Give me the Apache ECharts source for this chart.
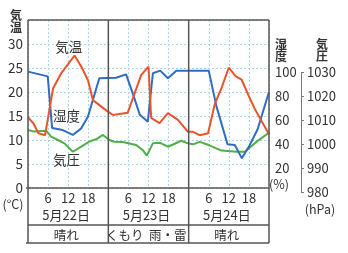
<!DOCTYPE html>
<html><head><meta charset="utf-8">
<script src="https://cdn.jsdelivr.net/npm/echarts@6/dist/echarts.min.js"></script>
<style>html,body{margin:0;padding:0;background:#fff}#c{width:348px;height:253px}</style>
</head><body><div id="c"></div>
<script>
// ---- data (hours from 5/22 00:00) ----
const tempHours  = [0, 1.6, 3.1, 5.1, 7.5, 10, 13.9, 15.9, 17.9, 19.4, 22.4, 23.9, 25.4, 29.8, 33.8, 36, 36.8, 39.3, 41.8, 44.8, 47.8, 49.3, 51.3, 53.8, 55.8, 57.8, 60, 62, 63.8, 65.8, 67.8, 72];
const tempValues = [14.7, 13.5, 11.4, 11.0, 20.8, 24.0, 27.6, 25.3, 22.5, 18.3, 16.7, 15.9, 15.2, 15.7, 23.5, 25.3, 14.6, 13.5, 15.6, 14.2, 11.7, 11.7, 11.0, 11.4, 17.5, 20.8, 25.1, 23.3, 22.6, 19.4, 16.4, 11.2];
const humHours   = [0, 5.9, 7.2, 10.4, 13.4, 15.9, 17.9, 21.3, 26.3, 29.3, 31.4, 33.4, 35.8, 37.3, 39.5, 41.8, 44.3, 54, 56.3, 59.6, 61.8, 63.9, 66.1, 68.6, 72];
const humValues  = [97, 93, 50, 48.3, 44.2, 49.7, 59.4, 91.4, 91.9, 94.7, 78, 61, 55.3, 95.6, 97.8, 91.4, 97.8, 97.8, 68, 36.5, 35.8, 24.7, 35, 49, 80];
const presHours  = [0, 1.9, 5.4, 6.9, 8.9, 10.9, 13.4, 15.9, 18.3, 20.3, 22.4, 24.3, 25.8, 28.3, 32.3, 34.3, 35.5, 37.3, 39.3, 41.8, 45.8, 47.8, 49.3, 51.3, 53.8, 57.8, 62.3, 64.8, 68.3, 72];
const presValues = [1004.2, 1003.5, 1003.9, 1001.4, 1000, 998.6, 995.1, 997.2, 999.3, 1000.3, 1002.1, 1000, 999.3, 999.2, 997.9, 995.8, 993.5, 998.6, 998.9, 997.2, 999.7, 998.6, 998.2, 999.2, 998.0, 995.6, 995.1, 995.1, 999.3, 1003];
const dateLabels = ['5月22日', '5月23日', '5月24日'];
const weatherLabels = [['晴れ'], ['くもり', '雨・雷'], ['晴れ']];
const tempTicks = [0, 5, 10, 15, 20, 25, 30];
const humTicks = [20, 40, 60, 80, 100];
const presTicks = [980, 990, 1000, 1010, 1020, 1030];

const FONT = '"Noto Sans CJK JP", "Noto Sans", sans-serif';
const TXT = '#333';
const BORDER = '#555';
const GRIDC = '#a6d6ec';
const zip = (a, b) => a.map((h, i) => [h, b[i]]);

const chart = echarts.init(document.getElementById('c'), null, {renderer: 'canvas'});
chart.setOption({
  animation: false,
  backgroundColor: '#fff',
  textStyle: {fontFamily: FONT},
  grid: [
    {left: 28, right: 79, top: 20, bottom: 65},
    {left: 272, right: 47, top: 72.5, bottom: 61}
  ],
  xAxis: [
    {type: 'value', gridIndex: 0, min: 0, max: 72, interval: 6,
     axisLine: {show: false}, axisTick: {show: false},
     axisLabel: {margin: 4, fontSize: 13, color: TXT, fontFamily: FONT,
       formatter: v => (v % 24 === 0 ? '' : String(v % 24))},
     splitLine: {show: true, lineStyle: {color: GRIDC, type: [2, 2], width: 1}}},
    {type: 'value', gridIndex: 1, min: 0, max: 1, show: false}
  ],
  yAxis: [
    {type: 'value', gridIndex: 0, min: 0, max: 35, interval: 5, position: 'left',
     axisLine: {show: false}, axisTick: {show: false},
     axisLabel: {margin: 5, fontSize: 13.5, color: TXT, fontFamily: FONT,
       formatter: v => (tempTicks.includes(v) ? String(v) : '')},
     splitLine: {show: true, lineStyle: {color: GRIDC, type: [2, 2], width: 1}}},
    {type: 'value', gridIndex: 0, min: 0, max: 140, show: false},
    {type: 'value', gridIndex: 0, min: 980, max: 1050, show: false},
    {type: 'value', gridIndex: 1, min: 0, max: 100, interval: 20, position: 'left',
     axisLine: {show: false}, axisTick: {show: false}, splitLine: {show: false},
     axisLabel: {inside: true, margin: 3, fontSize: 13, color: TXT, fontFamily: FONT,
       formatter: v => (humTicks.includes(v) ? String(v) : '')}},
    {type: 'value', gridIndex: 1, min: 980, max: 1030, interval: 10, position: 'right',
     axisLine: {show: true, lineStyle: {color: '#777', width: 1}},
     axisTick: {show: true, length: 3, lineStyle: {color: '#777'}},
     splitLine: {show: false},
     axisLabel: {margin: 6, fontSize: 13, color: TXT, fontFamily: FONT,
       formatter: v => (presTicks.includes(v) ? String(v) : '')}}
  ],
  series: [
    {name: '気圧', type: 'line', xAxisIndex: 0, yAxisIndex: 2, data: zip(presHours, presValues),
     symbol: 'none', lineStyle: {color: '#4fae48', width: 2}, z: 3},
    {name: '湿度', type: 'line', xAxisIndex: 0, yAxisIndex: 1, data: zip(humHours, humValues),
     symbol: 'none', lineStyle: {color: '#2e6dc2', width: 2}, z: 4},
    {name: '気温', type: 'line', xAxisIndex: 0, yAxisIndex: 0, data: zip(tempHours, tempValues),
     symbol: 'none', lineStyle: {color: '#e9552b', width: 2}, z: 5}
  ]
});

function px(h, t) { return chart.convertToPixel({xAxisIndex: 0, yAxisIndex: 0}, [h, t]); }
const [x0, yTop] = px(0, 35);
const [x72, yBot] = px(72, 0);
const dayX = [0, 24, 48, 72].map(h => px(h, 0)[0]);
const yRow1 = 225, yRow2 = 243;
const g = [];
const line = (xa, ya, xb, yb) => g.push({type: 'line', z: 10, shape: {x1: xa, y1: ya, x2: xb, y2: yb},
  style: {stroke: BORDER, lineWidth: 1.5}});
line(x0, yTop, x72, yTop);
line(x0 - 2, yBot, x72, yBot);
line(x0, yRow1, x72, yRow1);
line(x0 - 2, yRow2, x72, yRow2);
dayX.forEach(x => line(x, yTop, x, yRow2));
const text = (s, x, y, size, align, extra) => g.push(Object.assign({type: 'text', z: 11, x: x, y: y,
  style: {text: s, fill: TXT, font: size + 'px ' + FONT, align: align || 'center', verticalAlign: 'middle'}}, extra || {}));
dateLabels.forEach((d, i) => text(d, (dayX[i] + dayX[i + 1]) / 2 - 2, 215, 13));
weatherLabels.forEach((parts, i) => {
  const w = dayX[i + 1] - dayX[i];
  if (parts.length === 1) text(parts[0], dayX[i] + w / 2 - 2, 235, 12.5);
  else {
    text(parts[0], dayX[i] + w * 0.205, 235, 12.5);
    text(parts[1], dayX[i] + w * 0.74, 235, 12.5);
  }
});
// series names inside the plot
const p1 = px(12.2, 29.5), p2 = px(11.5, 15), p3 = px(11.5, 5.9);
text('気温', p1[0], p1[1], 13.5);
text('湿度', p2[0], p2[1], 13.5);
text('気圧', p3[0], p3[1], 13.5);
// axis titles & units
const vt = (s, x, y) => g.push({type: 'text', z: 11, x: x, y: y,
  style: {text: s, fill: TXT, font: 'bold 12px ' + FONT, align: 'center', verticalAlign: 'middle', lineHeight: 12}});
vt('気\n温', 16, 21.5);
vt('湿\n度', 281, 50);
vt('気\n圧', 322, 50);
text('(°C)', 13, 204, 12.5);
text('(%)', 279, 184, 12.5);
text('(hPa)', 320, 209, 12.5);
chart.setOption({graphic: g});
</script>
</body></html>
